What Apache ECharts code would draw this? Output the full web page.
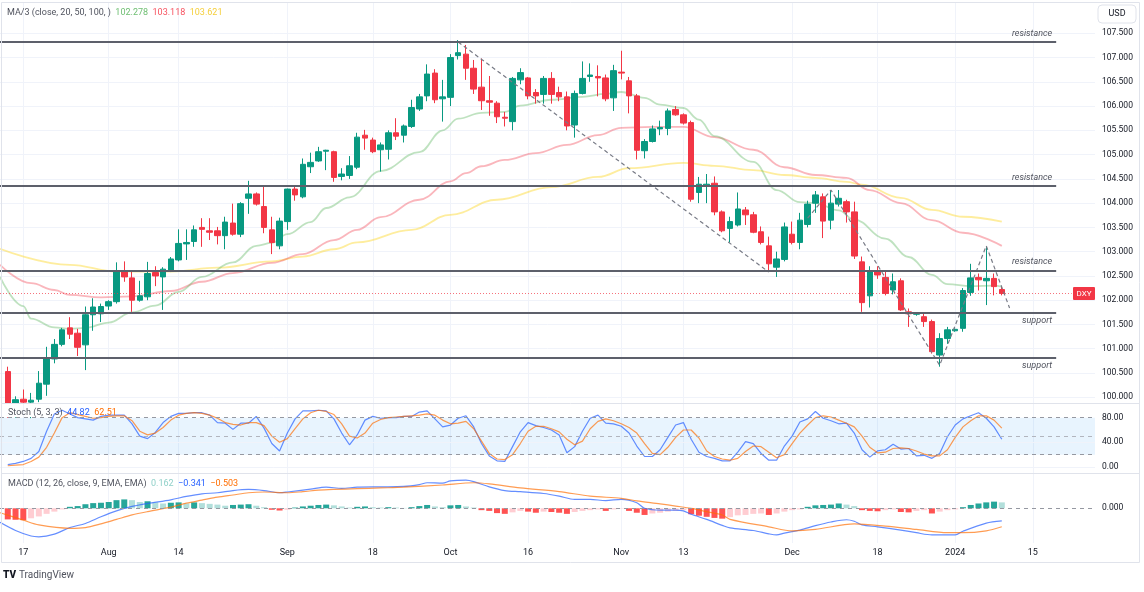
<!DOCTYPE html>
<html>
<head>
<meta charset="utf-8">
<script src="https://cdn.jsdelivr.net/npm/echarts@6/dist/echarts.min.js"></script>
<style>
html, body { margin: 0; padding: 0; background: #fff; }
#chart { width: 1144px; height: 592px; }
</style>
</head>
<body>
<div id="chart"></div>
<script>
// weekday calendar of the time axis, starting one slot before the first candle
const days = []
{
  let t = Date.UTC(2023, 6, 12)
  while (days.length < 142) {
    const d = new Date(t)
    const wd = d.getUTCDay()
    if (wd !== 0 && wd !== 6) days.push(d.toISOString().slice(0, 10))
    t += 86400000
  }
}

const tickDates = ['2023-07-17', '2023-08-01', '2023-08-14', '2023-09-01', '2023-09-18', '2023-10-02',
  '2023-10-16', '2023-11-01', '2023-11-13', '2023-12-01', '2023-12-18', '2024-01-01', '2024-01-15']
const tickLabels = ['17', 'Aug', '14', 'Sep', '18', 'Oct', '16', 'Nov', '13', 'Dec', '18', '2024', '15']
const priceTicks = [100, 100.5, 101, 101.5, 102, 102.5, 103, 103.5, 104, 104.5, 105, 105.5, 106, 106.5, 107, 107.5]

// DXY daily candles [open, high, low, close], 2023-07-13 .. 2024-01-09
const ohlc = [
  [100.53, 100.63, 99.58, 99.78], [99.78, 100.02, 99.58, 99.95], [99.96, 100.16, 99.76, 99.90], [99.90, 100.09, 99.57, 99.94],
  [99.96, 100.54, 99.90, 100.29], [100.27, 101.04, 100.03, 100.80], [100.79, 101.20, 100.70, 101.09], [101.09, 101.43, 101.05, 101.39],
  [101.43, 101.65, 101.20, 101.30], [101.32, 101.41, 100.85, 101.03], [101.08, 101.87, 100.56, 101.70], [101.70, 102.04, 101.37, 101.86],
  [101.72, 101.93, 101.55, 101.87], [101.88, 102.00, 101.80, 101.97], [101.97, 102.78, 101.93, 102.61], [102.61, 102.80, 102.38, 102.48],
  [102.46, 102.61, 101.76, 102.00], [102.00, 102.40, 101.97, 102.09], [102.07, 102.79, 102.00, 102.55], [102.57, 102.70, 102.29, 102.50],
  [102.48, 102.68, 101.80, 102.64], [102.61, 102.89, 102.58, 102.85], [102.83, 103.46, 102.80, 103.17], [103.16, 103.46, 102.83, 103.19],
  [103.21, 103.54, 103.10, 103.45], [103.50, 103.69, 103.10, 103.46], [103.43, 103.69, 103.24, 103.40], [103.43, 103.51, 103.15, 103.33],
  [103.33, 103.72, 103.05, 103.61], [103.59, 103.99, 103.33, 103.36], [103.36, 104.02, 103.30, 103.99], [104.10, 104.46, 103.78, 104.19],
  [104.19, 104.22, 103.95, 103.98], [103.93, 104.35, 103.38, 103.50], [103.45, 103.72, 102.95, 103.19], [103.12, 103.70, 103.05, 103.63],
  [103.62, 104.30, 103.45, 104.29], [104.29, 104.35, 104.05, 104.17], [104.13, 104.92, 104.10, 104.80], [104.75, 105.04, 104.62, 104.84],
  [104.87, 105.16, 104.85, 105.06], [105.07, 105.10, 104.68, 105.09], [105.06, 105.08, 104.44, 104.53], [104.55, 104.72, 104.47, 104.60],
  [104.57, 104.97, 104.50, 104.77], [104.74, 105.45, 104.70, 105.36], [105.40, 105.51, 105.10, 105.34], [105.30, 105.35, 105.03, 105.06],
  [105.10, 105.25, 104.65, 105.20], [105.11, 105.50, 104.90, 105.45], [105.45, 105.75, 105.30, 105.38], [105.40, 105.62, 105.25, 105.59],
  [105.58, 106.13, 105.55, 105.97], [105.94, 106.25, 105.90, 106.19], [106.21, 106.86, 106.10, 106.66], [106.68, 106.76, 106.06, 106.13],
  [106.15, 106.54, 105.68, 106.19], [106.18, 107.07, 106.00, 107.00], [107.04, 107.36, 106.96, 107.10], [107.07, 107.26, 106.54, 106.78],
  [106.78, 106.95, 106.25, 106.35], [106.39, 106.98, 105.92, 106.11], [106.11, 106.62, 105.80, 106.08], [106.06, 106.10, 105.65, 105.78],
  [105.77, 105.88, 105.58, 105.75], [105.68, 106.60, 105.50, 106.57], [106.54, 106.78, 106.45, 106.69], [106.58, 106.60, 106.14, 106.21],
  [106.28, 106.35, 106.05, 106.21], [106.24, 106.62, 106.05, 106.57], [106.57, 106.70, 106.05, 106.24], [106.28, 106.40, 106.10, 106.19],
  [106.19, 106.30, 105.50, 105.59], [105.61, 106.32, 105.35, 106.26], [106.26, 106.92, 106.24, 106.57], [106.61, 106.88, 106.50, 106.64],
  [106.61, 106.84, 106.20, 106.58], [106.58, 106.65, 106.10, 106.15], [106.17, 106.85, 105.90, 106.73], [106.70, 107.14, 106.55, 106.68],
  [106.52, 106.60, 105.85, 106.21], [106.21, 106.25, 104.90, 105.09], [105.08, 105.32, 104.92, 105.27], [105.27, 105.60, 105.25, 105.53],
  [105.53, 105.70, 105.40, 105.56], [105.54, 105.95, 105.40, 105.90], [105.93, 106.00, 105.80, 105.82], [105.82, 105.85, 105.62, 105.65],
  [105.66, 105.70, 104.03, 104.08], [104.22, 104.54, 104.00, 104.39], [104.36, 104.60, 104.00, 104.39], [104.41, 104.55, 103.75, 103.82],
  [103.82, 103.85, 103.40, 103.43], [103.48, 103.72, 103.19, 103.62], [103.55, 104.22, 103.52, 103.88], [103.86, 103.92, 103.55, 103.76],
  [103.76, 103.82, 103.38, 103.40], [103.41, 103.52, 103.15, 103.19], [103.12, 103.31, 102.59, 102.75], [102.68, 103.00, 102.48, 102.85],
  [102.84, 103.60, 102.80, 103.51], [103.36, 103.62, 103.15, 103.19], [103.19, 103.80, 103.05, 103.65], [103.56, 104.05, 103.50, 103.98],
  [104.00, 104.25, 103.80, 104.17], [104.13, 104.20, 103.28, 103.63], [103.65, 104.27, 103.46, 104.00], [103.98, 104.27, 103.93, 104.10],
  [104.03, 104.07, 103.60, 103.82], [103.82, 104.03, 102.85, 102.91], [102.79, 102.90, 101.76, 101.95], [102.09, 102.70, 101.85, 102.61],
  [102.61, 102.70, 102.44, 102.52], [102.47, 102.62, 102.10, 102.14], [102.21, 102.55, 102.12, 102.38], [102.40, 102.45, 101.78, 101.80],
  [101.76, 101.83, 101.45, 101.72], [101.71, 101.75, 101.68, 101.73], [101.66, 101.72, 101.45, 101.56], [101.56, 101.60, 100.90, 100.94],
  [100.87, 101.32, 100.63, 101.21], [101.21, 101.45, 101.10, 101.39], [101.37, 101.42, 101.35, 101.40], [101.42, 102.25, 101.35, 102.20],
  [102.16, 102.75, 102.09, 102.46], [102.47, 102.55, 102.20, 102.42], [102.40, 103.10, 101.90, 102.45], [102.45, 102.55, 102.10, 102.28],
  [102.22, 102.28, 102.10, 102.14]
]

// moving averages: [day index, value]
const ma20 = [[0, 102.48], [3, 101.88], [4, 101.62], [7, 101.44], [9, 101.41], [11, 101.43], [14, 101.54], [17, 101.75], [20, 101.89],
  [23, 102.17], [26, 102.48], [30, 102.78], [33, 103.12], [35, 103.18], [37, 103.36], [40, 103.61], [42, 103.90], [45, 104.12],
  [49, 104.66], [54, 105.05], [57, 105.50], [59, 105.74], [62, 105.86], [65, 105.88], [67, 106.01], [71, 106.13], [75, 106.19],
  [78, 106.25], [80, 106.29], [83, 106.17], [85, 106.03], [88, 105.96], [90, 105.72], [92, 105.38], [97, 104.85], [100, 104.27],
  [103, 104.02], [105, 104.00], [108, 103.85], [110, 103.66], [114, 103.27], [117, 102.89], [120, 102.52], [122, 102.33],
  [125, 102.29], [128, 102.30], [129, 102.28]]
const ma50 = [[0, 102.73], [4, 102.35], [7, 102.21], [9, 102.11], [13, 102.06], [17, 102.08], [22, 102.19], [26, 102.38],
  [30, 102.56], [35, 102.77], [39, 102.95], [43, 103.24], [46, 103.45], [49, 103.71], [54, 104.07], [58, 104.45], [60, 104.62],
  [62, 104.76], [65, 104.89], [69, 105.03], [73, 105.20], [77, 105.40], [80, 105.55], [84, 105.57], [88, 105.57], [92, 105.36],
  [97, 105.10], [101, 104.74], [105, 104.58], [109, 104.52], [112, 104.27], [116, 104.00], [120, 103.65], [124, 103.39], [129, 103.12]]
const ma100 = [[0, 103.06], [9, 102.73], [15, 102.59], [22, 102.59], [28, 102.67], [35, 102.80], [39, 102.90], [43, 103.05],
  [46, 103.19], [53, 103.45], [58, 103.76], [64, 104.07], [71, 104.33], [77, 104.54], [81, 104.72], [88, 104.83], [92, 104.77],
  [97, 104.68], [101, 104.58], [105, 104.52], [109, 104.44], [111, 104.38], [116, 104.11], [120, 103.86], [124, 103.72], [129, 103.62]]
const maLast = ['102.278', '103.118', '103.621']

// drawn levels and trend lines
const levels = [[107.32, 'resistance'], [104.35, 'resistance'], [102.61, 'resistance'], [101.75, 'support'], [100.82, 'support']]
const lastPrice = 102.14
const trendA = [[59, 107.32], [99, 102.58]]
const trendB = [[104, 103.69], [107, 104.27], [121, 100.66], [127, 103.12], [130, 101.84]]

// stochastic %K and %D per candle
const stochK = [4, 6, 9, 14, 25, 58, 86, 92, 86, 80, 78, 76, 82, 84, 84, 84, 70, 50, 46, 56,
  72, 82, 87, 87, 88, 88, 84, 72, 71, 61, 71, 71, 82, 63, 38, 26, 55, 78, 91, 91,
  92, 91, 78, 55, 36, 52, 76, 82, 79, 80, 80, 82, 82, 89, 91, 78, 65, 68, 79, 83,
  65, 38, 18, 10, 9, 33, 57, 72, 67, 64, 60, 52, 23, 33, 58, 79, 84, 71, 70, 66,
  55, 34, 17, 17, 28, 48, 68, 72, 45, 24, 17, 14, 10, 10, 24, 41, 38, 22, 11, 11,
  34, 50, 73, 78, 90, 79, 75, 70, 71, 55, 28, 16, 26, 28, 37, 29, 30, 18, 19, 14,
  22, 49, 68, 78, 83, 88, 79, 65, 45]
const stochD = [2, 3, 4, 9, 16, 32, 55, 80, 88, 85, 82, 79, 80, 82, 83, 83, 75, 58, 52, 55,
  64, 76, 84, 87, 88, 87, 84, 79, 72, 69, 68, 72, 72, 67, 50, 40, 46, 62, 78, 88,
  92, 90, 85, 70, 50, 47, 55, 71, 77, 80, 81, 82, 83, 84, 86, 84, 76, 70, 71, 74,
  62, 42, 22, 13, 12, 20, 38, 58, 66, 66, 62, 57, 45, 36, 42, 62, 74, 78, 75, 70,
  64, 55, 38, 22, 20, 32, 48, 60, 60, 47, 26, 17, 13, 11, 14, 25, 34, 33, 24, 15,
  20, 38, 55, 68, 80, 83, 81, 76, 71, 65, 50, 32, 23, 24, 30, 31, 30, 26, 21, 18,
  18, 28, 48, 65, 75, 83, 83, 76, 63]

// MACD histogram per candle, MACD / signal lines as [day index, value]
const macdHist = [-0.30, -0.31, -0.32, -0.27, -0.22, -0.15, -0.09, -0.03, 0.04, 0.06,
  0.11, 0.14, 0.15, 0.17, 0.22, 0.24, 0.22, 0.17, 0.19, 0.16,
  0.13, 0.15, 0.16, 0.13, 0.16, 0.14, 0.12, 0.10, 0.07, 0.09,
  0.10, 0.11, 0.07, 0.03, -0.04, -0.06, -0.04, 0.02, 0.05, 0.07,
  0.09, 0.10, 0.08, 0.05, 0.02, 0.04, 0.05, 0.03, 0.02, 0.03,
  0.02, 0.01, 0.03, 0.06, 0.09, 0.05, 0.03, 0.08, 0.09, 0.05,
  0.02, -0.05, -0.07, -0.13, -0.15, -0.11, -0.07, -0.09, -0.12, -0.09,
  -0.10, -0.12, -0.15, -0.10, -0.07, -0.05, -0.03, -0.07, -0.03, -0.01,
  -0.07, -0.12, -0.18, -0.14, -0.12, -0.09, -0.07, -0.05, -0.16, -0.20,
  -0.23, -0.26, -0.28, -0.24, -0.19, -0.18, -0.15, -0.14, -0.18, -0.14,
  -0.09, -0.05, -0.03, 0.04, 0.08, 0.09, 0.10, 0.13, 0.10, 0.06,
  -0.05, -0.07, -0.08, -0.05, -0.03, -0.10, -0.11, -0.07, -0.05, -0.14,
  -0.09, -0.05, -0.03, 0.03, 0.09, 0.13, 0.16, 0.18, 0.16]
const macdLine = [[0, -0.38], [2, -0.60], [4, -0.75], [5, -0.77], [7, -0.70], [9, -0.52], [11, -0.41], [13, -0.23], [15, -0.07],
  [17, 0.05], [19, 0.13], [22, 0.23], [24, 0.32], [26, 0.39], [28, 0.42], [30, 0.48], [32, 0.51], [34, 0.48], [36, 0.42],
  [37, 0.44], [40, 0.52], [42, 0.57], [44, 0.54], [46, 0.57], [49, 0.58], [52, 0.59], [54, 0.64], [55, 0.69], [57, 0.68],
  [58, 0.74], [60, 0.76], [61, 0.72], [63, 0.58], [65, 0.48], [67, 0.45], [70, 0.40], [72, 0.33], [74, 0.24], [76, 0.24],
  [78, 0.21], [80, 0.24], [82, 0.15], [83, 0.00], [85, -0.05], [87, -0.05], [88, -0.07], [89, -0.16], [91, -0.30], [93, -0.46],
  [94, -0.53], [97, -0.60], [99, -0.69], [100, -0.72], [101, -0.67], [103, -0.59], [105, -0.47], [107, -0.37], [109, -0.31],
  [110, -0.35], [111, -0.45], [113, -0.50], [116, -0.59], [118, -0.66], [120, -0.72], [123, -0.72], [124, -0.62], [127, -0.40], [129, -0.34]]
const signalLine = [[0, -0.12], [3, -0.32], [5, -0.45], [9, -0.54], [11, -0.52], [13, -0.42], [15, -0.30], [17, -0.18], [19, -0.09],
  [22, 0.03], [24, 0.14], [26, 0.22], [28, 0.30], [30, 0.36], [32, 0.42], [34, 0.44], [37, 0.42], [39, 0.45], [41, 0.49],
  [43, 0.51], [46, 0.53], [49, 0.55], [52, 0.57], [57, 0.63], [61, 0.69], [63, 0.66], [67, 0.55], [72, 0.45], [76, 0.33],
  [80, 0.27], [82, 0.20], [85, 0.12], [87, 0.06], [89, 0.00], [91, -0.09], [93, -0.18], [94, -0.30], [99, -0.50], [102, -0.61],
  [105, -0.57], [110, -0.42], [114, -0.48], [118, -0.57], [122, -0.66], [124, -0.66], [127, -0.61], [129, -0.50]]

const FONT = 'Roboto, sans-serif'
const UP = '#089981'
const DOWN = '#f23645'
const GRID = '#f0f3fa'
const TEXT = '#131722'
const BLUE = 'rgba(41,98,255,0.72)'
const ORANGE = 'rgba(255,109,0,0.68)'

const isTick = i => tickDates.includes(days[i])

function timeAxis(gridIndex, labels) {
  return {
    type: 'category',
    gridIndex,
    data: days,
    boundaryGap: false,
    axisLine: { show: false },
    axisTick: { show: false },
    axisLabel: {
      show: labels,
      interval: (i) => isTick(i),
      formatter: (v) => tickLabels[tickDates.indexOf(v)] || '',
      color: TEXT,
      fontSize: 9,
      fontFamily: FONT,
      margin: 5,
    },
    splitLine: { show: true, interval: (i) => isTick(i), lineStyle: { color: GRID, width: 1 } },
  }
}

function valueAxis(gridIndex, min, max, ticks, digits) {
  return {
    type: 'value',
    gridIndex,
    position: 'right',
    min,
    max,
    axisLine: { show: false },
    axisTick: { show: false },
    splitLine: { show: false },
    axisLabel: {
      customValues: ticks,
      formatter: v => v.toFixed(digits),
      color: TEXT,
      fontSize: 8.5,
      fontFamily: FONT,
      margin: 7,
    },
  }
}

function gridLines(xi, values, style) {
  return {
    type: 'line',
    xAxisIndex: xi,
    yAxisIndex: xi,
    data: [],
    silent: true,
    markLine: {
      silent: true,
      symbol: 'none',
      z: 1,
      label: { show: false },
      lineStyle: style,
      data: values.map(v => ({ yAxis: v })),
    },
  }
}

function maSeries(data, color) {
  return {
    type: 'line',
    xAxisIndex: 0,
    yAxisIndex: 0,
    data,
    smooth: 0.4,
    smoothMonotone: 'x',
    symbol: 'none',
    z: 2,
    lineStyle: { color, width: 1.8 },
  }
}

function thinLine(xi, data, color, extra) {
  return Object.assign({
    type: 'line',
    xAxisIndex: xi,
    yAxisIndex: xi,
    data,
    symbol: 'none',
    z: 3,
    lineStyle: { color, width: 1.2 },
  }, extra || {})
}

const candleData = days.map((d, i) => {
  const c = ohlc[i - 1]
  return c ? [c[0], c[3], c[2], c[1]] : '-'
})

const histData = macdHist.map((v, k) => {
  const prev = k > 0 ? macdHist[k - 1] : v
  let color
  if (v >= 0) color = v >= prev ? '#26a69a' : '#b2dfdb'
  else color = v < prev || k === 0 ? '#ff5252' : '#ffcdd2'
  return { value: [k + 1, v], itemStyle: { color } }
})

function label(x, y, text, fill, extra) {
  return {
    type: 'text',
    x,
    y,
    z: 60,
    silent: true,
    style: Object.assign({ text, fill, fontSize: 9, fontFamily: FONT, verticalAlign: 'middle' }, extra || {}),
  }
}

// pane legend: title followed by coloured values
function legend(x, y, title, parts) {
  const rich = { t: { fill: '#50535e', fontSize: 9, fontFamily: FONT } }
  let text = '{t|' + title + '}'
  parts.forEach(([v, c], k) => {
    rich['v' + k] = { fill: c, fontSize: 9, fontFamily: FONT }
    text += '{t|  }{v' + k + '|' + v + '}'
  })
  return { type: 'text', x, y, z: 60, silent: true, style: { text, rich, verticalAlign: 'middle', fontSize: 9, fontFamily: FONT } }
}

const option = {
  animation: false,
  backgroundColor: '#ffffff',
  grid: [
    { left: 0, right: 49, top: 3, height: 400 },
    { left: 0, right: 49, top: 404, height: 69 },
    { left: 0, right: 49, top: 474, height: 69 },
  ],
  xAxis: [timeAxis(0, false), timeAxis(1, false), timeAxis(2, true)],
  yAxis: [
    valueAxis(0, 99.882, 108.124, priceTicks, 3),
    valueAxis(1, -9.72, 102.1, [0, 40, 80], 2),
    valueAxis(2, -0.938, 0.927, [0], 3),
  ],
  series: [
    gridLines(0, priceTicks, { color: GRID, type: 'solid', width: 1 }),
    maSeries(ma100, 'rgba(252,214,40,0.45)'),
    maSeries(ma50, 'rgba(242,54,69,0.36)'),
    maSeries(ma20, 'rgba(102,187,106,0.42)'),
    {
      type: 'candlestick',
      xAxisIndex: 0,
      yAxisIndex: 0,
      data: candleData,
      barWidth: 6,
      clip: true,
      z: 3,
      itemStyle: { color: UP, color0: DOWN, borderColor: UP, borderColor0: DOWN, borderWidth: 1 },
    },
    {
      type: 'line',
      xAxisIndex: 0,
      yAxisIndex: 0,
      data: [],
      silent: true,
      markLine: {
        silent: true,
        symbol: 'none',
        lineStyle: { color: '#5d606b', width: 2, type: 'solid' },
        label: {
          show: true,
          formatter: '{b}',
          fontStyle: 'italic',
          fontSize: 9,
          fontFamily: FONT,
          color: '#50535e',
          distance: 4,
        },
        data: levels.map(([v, name]) => [
          { name, coord: [0, v], label: { position: name === 'support' ? 'insideEndBottom' : 'insideEndTop' } },
          { coord: [136, v] },
        ]).concat([[
          { name: '', coord: [0, lastPrice], lineStyle: { color: DOWN, width: 1, type: [1, 2], opacity: 0.7 }, label: { show: false } },
          { coord: [138, lastPrice] },
        ]]),
      },
    },
    thinLine(0, trendA, '#787b86', { lineStyle: { color: '#787b86', width: 1.2, type: [4, 3] }, z: 4 }),
    thinLine(0, trendB, '#787b86', { lineStyle: { color: '#787b86', width: 1.2, type: [4, 3] }, z: 4 }),

    // stochastic pane
    gridLines(1, [0, 40], { color: GRID, type: 'solid', width: 1 }),
    {
      type: 'line',
      xAxisIndex: 1,
      yAxisIndex: 1,
      data: [],
      silent: true,
      markArea: {
        silent: true,
        itemStyle: { color: 'rgba(33,150,243,0.1)' },
        data: [[{ yAxis: 20 }, { yAxis: 80 }]],
      },
      markLine: {
        silent: true,
        symbol: 'none',
        label: { show: false },
        lineStyle: { color: '#9598a1', type: [4, 4], width: 1 },
        data: [{ yAxis: 80 }, { yAxis: 50, lineStyle: { color: '#b2b5be' } }, { yAxis: 20 }],
      },
    },
    thinLine(1, stochK.map((v, k) => [k + 1, v]), BLUE),
    thinLine(1, stochD.map((v, k) => [k + 1, v]), ORANGE),

    // MACD pane
    {
      type: 'line',
      xAxisIndex: 2,
      yAxisIndex: 2,
      data: [],
      silent: true,
      markLine: {
        silent: true,
        symbol: 'none',
        label: { show: false },
        lineStyle: { color: '#9598a1', type: [4, 4], width: 1 },
        data: [{ yAxis: 0 }],
      },
    },
    { type: 'bar', xAxisIndex: 2, yAxisIndex: 2, data: histData, barWidth: 6, z: 2 },
    thinLine(2, macdLine, BLUE, { smooth: 0.3 }),
    thinLine(2, signalLine, ORANGE, { smooth: 0.3 }),
  ],
  graphic: [
    // the main pane cuts off the lower wicks of the first July candles
    { type: 'rect', silent: true, z: 40, shape: { x: 2, y: 404, width: 34, height: 13 }, style: { fill: '#ffffff' } },
    { type: 'line', silent: true, z: 41, shape: { x1: 23.5, y1: 404, x2: 23.5, y2: 417 }, style: { stroke: GRID, lineWidth: 1 } },
    { type: 'rect', silent: true, z: 100, shape: { x: 1.5, y: 2.5, width: 1138, height: 560 }, style: { fill: 'none', stroke: '#e0e3eb', lineWidth: 1 } },
    { type: 'line', silent: true, z: 41, shape: { x1: 1.5, y1: 403.5, x2: 1139.5, y2: 403.5 }, style: { stroke: '#e0e3eb', lineWidth: 1 } },
    { type: 'line', silent: true, shape: { x1: 1.5, y1: 473.5, x2: 1139.5, y2: 473.5 }, style: { stroke: '#e0e3eb', lineWidth: 1 } },
    { type: 'rect', silent: true, z: 50, shape: { x: 1098, y: 5, width: 38, height: 18, r: 4 }, style: { fill: '#fff', stroke: '#e0e3eb', lineWidth: 1 } },
    label(1117, 14, 'USD', TEXT, { align: 'center' }),
    { type: 'rect', silent: true, z: 50, shape: { x: 1073, y: 287, width: 22, height: 13, r: 1 }, style: { fill: DOWN } },
    label(1084, 293.5, 'DXY', '#ffffff', { align: 'center', fontSize: 8 }),

    legend(7, 13, 'MA/3 (close, 20, 50, 100, )', [[maLast[0], '#6fbf73'], [maLast[1], '#f7525f'], [maLast[2], '#f5cf3b']]),
    legend(8, 413, 'Stoch (5, 3, 3)', [['44.82', '#2962ff'], ['62.51', '#ff6d00']]),
    legend(8, 484, 'MACD (12, 26, close, 9, EMA, EMA)', [['0.162', '#8fd0c8'], ['\u22120.341', '#2962ff'], ['\u22120.503', '#ff6d00']]),

    label(3, 575, 'TV', TEXT, { fontWeight: 900, fontSize: 10 }),
    label(19, 575, 'TradingView', '#50535e', { fontSize: 10 }),
  ],
}

const chart = echarts.init(document.getElementById('chart'))
chart.setOption(option)
</script>
</body>
</html>
